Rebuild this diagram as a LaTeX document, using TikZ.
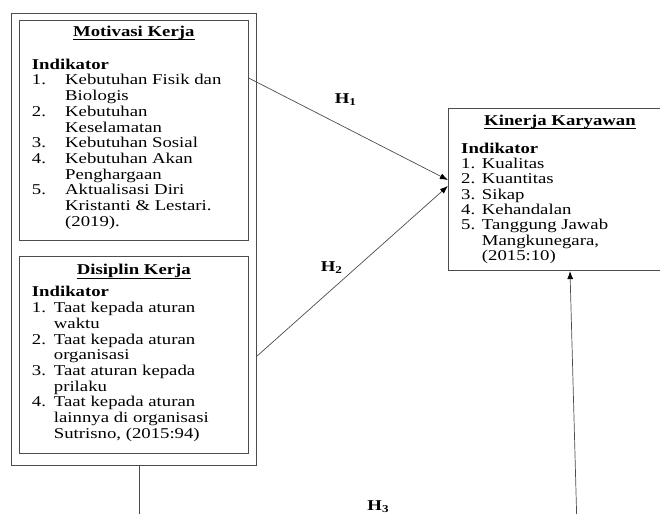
\documentclass[tikz,border=0pt]{standalone}
\usepackage{fontspec}
\setmainfont[FakeStretch=1.25]{Liberation Serif}
\usepackage{xcolor}
\definecolor{lineGray}{gray}{0.30}
\usepackage{tikz}
\usetikzlibrary{arrows.meta}

\begin{document}
\begin{tikzpicture}[x=1pt, y=1pt, >={Latex[length=8pt,width=6pt,color=black]},
  box/.style={draw=lineGray, line width=0.8pt, inner sep=0pt},
  head/.style={font=\fontsize{15}{15.7}\selectfont\bfseries, inner sep=0pt, anchor=base},
  uline/.style={line width=0.8pt},
  list/.style={font=\fontsize{15}{15.7}\selectfont, inner sep=0pt, anchor=base west},
  link/.style={draw=lineGray, line width=0.7pt},
  hlabel/.style={font=\fontsize{15}{15.7}\selectfont\bfseries, inner sep=0pt, anchor=base}]
  \useasboundingbox (0,0) rectangle (660,514);
  \clip (0,0) rectangle (660,514);

  % ---------------- the boxes ----------------
  \node[box, minimum width=245pt, minimum height=452.4pt] (outer) at (134.2,274.5) {};
  \node[box, minimum width=229pt, minimum height=220.7pt] (motiv) at (133.8,383.65) {};
  \node[box, minimum width=229pt, minimum height=196.3pt] (disip) at (133.8,159.15) {};
  \node[box, minimum width=222.7pt, minimum height=162.4pt] (kinerja) at (559.65,324.5) {};

  % ---------------- motivasi kerja ----------------
  \node[head] (motivHead) at (133.8,477.3) {Motivasi Kerja};
  \draw[uline] ([yshift=-3pt]motivHead.base west) -- ([yshift=-3pt]motivHead.base east);
  \node[list] (motivList) at (31.7,444.7) {%
    \begin{tabular}[t]{@{}p{33.3pt}@{}l@{}}
      \multicolumn{2}{@{}l@{}}{\textbf{Indikator}}\\
      1. & Kebutuhan Fisik dan\\
         & Biologis\\
      2. & Kebutuhan\\
         & Keselamatan\\
      3. & Kebutuhan Sosial\\
      4. & Kebutuhan Akan\\
         & Penghargaan\\
      5. & Aktualisasi Diri\\
         & Kristanti \& Lestari.\\
         & (2019).
    \end{tabular}};

  % ---------------- disiplin kerja ----------------
  \node[head] (disipHead) at (133.8,239) {Disiplin Kerja};
  \draw[uline] ([yshift=-3pt]disipHead.base west) -- ([yshift=-3pt]disipHead.base east);
  \node[list] (disipList) at (31.7,217) {%
    \begin{tabular}[t]{@{}p{22pt}@{}l@{}}
      \multicolumn{2}{@{}l@{}}{\textbf{Indikator}}\\
      1. & Taat kepada aturan\\
         & waktu\\
      2. & Taat kepada aturan\\
         & organisasi\\
      3. & Taat aturan kepada\\
         & prilaku\\
      4. & Taat kepada aturan\\
         & lainnya di organisasi\\
         & Sutrisno, (2015:94)
    \end{tabular}};

  % ---------------- kinerja karyawan ----------------
  \node[head] (kinHead) at (560,388.3) {Kinerja Karyawan};
  \draw[uline] ([yshift=-3pt]kinHead.base west) -- ([yshift=-3pt]kinHead.base east);
  \node[list, font=\fontsize{15}{15.3}\selectfont] (kinList) at (461,360.7) {%
    \begin{tabular}[t]{@{}p{20.7pt}@{}l@{}}
      \multicolumn{2}{@{}l@{}}{\textbf{Indikator}}\\
      1. & Kualitas\\
      2. & Kuantitas\\
      3. & Sikap\\
      4. & Kehandalan\\
      5. & Tanggung Jawab\\
         & Mangkunegara,\\
         & (2015:10)
    \end{tabular}};

  % ---------------- the hypotheses ----------------
  \coordinate (h1From) at ([yshift=52.3pt]motiv.east);
  \coordinate (h1To)   at ([yshift=9.5pt]kinerja.west);
  \coordinate (h2From) at ([yshift=-116.5pt]outer.east);
  \coordinate (h2To)   at ([yshift=3.5pt]kinerja.west);
  \coordinate (h3From) at ([xshift=5.1pt]outer.south);
  \coordinate (h3Down) at (139.3,0);
  \coordinate (h3Up)   at (576.6,0);
  \coordinate (h3To)   at ([xshift=10.35pt]kinerja.south);
  \draw[link, ->] (h1From) -- (h1To);
  \draw[link, ->] (h2From) -- (h2To);
  \draw[link] (h3From) -- (h3Down);
  \draw[link, ->] (h3Up) -- (h3To);

  % ---------------- labels ----------------
  \node[hlabel] (h1Label) at (345.7,410.7) {H\textsubscript{1}};
  \node[hlabel] (h2Label) at (331.7,242.3) {H\textsubscript{2}};
  \node[hlabel] (h3Label) at (378.3,3.3)   {H\textsubscript{3}};
\end{tikzpicture}
\end{document}
